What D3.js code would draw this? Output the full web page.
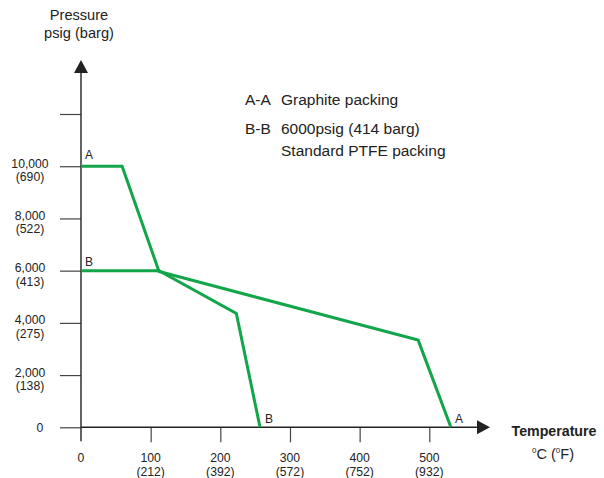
<!DOCTYPE html>
<html><head><meta charset="utf-8">
<script src="https://cdn.jsdelivr.net/npm/d3@7"></script>
<style>body{margin:0;background:#fff}svg{display:block;font-family:"Liberation Sans",Arial,sans-serif}</style>
</head><body>
<svg id="c" width="604" height="478"></svg>
<script>
const yTicks = [0, 2000, 4000, 6000, 8000, 10000, 12000];
const yPsi = ["0", "2,000", "4,000", "6,000", "8,000", "10,000", ""];
const yBarg = ["", "(138)", "(275)", "(413)", "(522)", "(690)", ""];
const xTicks = [0, 100, 200, 300, 400, 500];
const xC = ["0", "100", "200", "300", "400", "500"];
const xF = ["", "(212)", "(392)", "(572)", "(752)", "(932)"];
const seriesA = [[0, 10000], [59, 10000], [112, 5970], [484, 3340], [531, 0]];
const seriesB = [[0, 6000], [112, 6000], [223, 4360], [257, 0]];
const legendLines = [["A-A", "Graphite packing"], ["B-B", "6000psig (414 barg)"], ["", "Standard PTFE packing"]];

const svg = d3.select("#c");
const x = d3.scaleLinear().domain([0, 500]).range([81, 429.3]);
const y = d3.scaleLinear().domain([0, 12000]).range([427.3, 114]);
const green = "#12a54a";
const axisCol = "#222";

// y ticks
const ya = svg.append("g").attr("transform", `translate(${x(0)},0)`)
  .call(d3.axisLeft(y).tickValues(yTicks).tickSize(21).tickFormat(""));
ya.select(".domain").remove();
ya.selectAll(".tick line").attr("stroke", "#444").attr("stroke-width", 1.2);

// x ticks
const xa = svg.append("g").attr("transform", `translate(0,${y(0)})`)
  .call(d3.axisBottom(x).tickValues(xTicks.slice(1)).tickSize(15).tickFormat(""));
xa.select(".domain").remove();
xa.selectAll(".tick line").attr("stroke", "#444").attr("stroke-width", 1.2);

// axis lines
svg.append("line").attr("x1", x(0)).attr("x2", x(0)).attr("y1", y(0) + 14).attr("y2", 70)
  .attr("stroke", axisCol).attr("stroke-width", 1.4);
svg.append("line").attr("x1", x(0)).attr("x2", 480).attr("y1", y(0)).attr("y2", y(0))
  .attr("stroke", axisCol).attr("stroke-width", 1.4);
svg.append("path").attr("d", `M${x(0)},60 L${x(0) - 7},73 L${x(0) + 7},73 Z`).attr("fill", axisCol);
svg.append("path").attr("d", `M490,${y(0)} L477,${y(0) - 7} L477,${y(0) + 7} Z`).attr("fill", axisCol);

// y labels
yTicks.forEach((v, i) => {
  if (!yPsi[i]) return;
  if (!yBarg[i]) {
    svg.append("text").attr("x", 40).attr("y", y(v) + 4.5).attr("text-anchor", "middle")
      .attr("font-size", 12.2).attr("fill", "#222").text(yPsi[i]);
  } else {
    svg.append("text").attr("x", 30).attr("y", y(v) + 1.5).attr("text-anchor", "middle")
      .attr("font-size", 12.2).attr("fill", "#222").text(yPsi[i]);
    svg.append("text").attr("x", 30).attr("y", y(v) + 15).attr("text-anchor", "middle")
      .attr("font-size", 12.2).attr("fill", "#222").text(yBarg[i]);
  }
});

// x labels
xTicks.forEach((v, i) => {
  svg.append("text").attr("x", x(v)).attr("y", 462).attr("text-anchor", "middle")
    .attr("font-size", 12.2).attr("fill", "#222").text(xC[i]);
  if (xF[i]) svg.append("text").attr("x", x(v)).attr("y", 476).attr("text-anchor", "middle")
    .attr("font-size", 12.2).attr("fill", "#222").text(xF[i]);
});

// titles
svg.append("text").attr("x", 79).attr("y", 20).attr("text-anchor", "middle").attr("font-size", 14.6).attr("fill", "#222").text("Pressure");
svg.append("text").attr("x", 79).attr("y", 38).attr("text-anchor", "middle").attr("font-size", 14.6).attr("fill", "#222").text("psig (barg)");
svg.append("text").attr("x", 554).attr("y", 436).attr("text-anchor", "middle").attr("font-size", 14.2).attr("font-weight", "bold").attr("fill", "#222").text("Temperature");
const tu = svg.append("text").attr("x", 553).attr("y", 459).attr("text-anchor", "middle").attr("font-size", 14.6).attr("fill", "#222");
tu.append("tspan").attr("font-size", 8).attr("dy", -6).text("0");
tu.append("tspan").attr("dy", 6).text("C (");
tu.append("tspan").attr("font-size", 8).attr("dy", -6).text("0");
tu.append("tspan").attr("dy", 6).text("F)");

// lines
const line = d3.line().x(d => x(d[0])).y(d => y(d[1]));
[seriesA, seriesB].forEach(s => {
  svg.append("path").attr("d", line(s)).attr("fill", "none").attr("stroke", green)
    .attr("stroke-width", 3).attr("stroke-linejoin", "miter");
});

// point labels
svg.append("text").attr("x", x(seriesA[0][0]) + 4).attr("y", y(seriesA[0][1]) - 7).attr("font-size", 12).attr("fill", "#222").text("A");
svg.append("text").attr("x", x(seriesB[0][0]) + 4).attr("y", y(seriesB[0][1]) - 5).attr("font-size", 12).attr("fill", "#222").text("B");
svg.append("text").attr("x", x(seriesB[seriesB.length - 1][0]) + 5).attr("y", y(0) - 4).attr("font-size", 12).attr("fill", "#222").text("B");
svg.append("text").attr("x", x(seriesA[seriesA.length - 1][0]) + 4).attr("y", y(0) - 4).attr("font-size", 12).attr("fill", "#222").text("A");

// legend
legendLines.forEach((l, i) => {
  const yy = [105, 134, 156][i];
  if (l[0]) svg.append("text").attr("x", 245).attr("y", yy).attr("font-size", 15.5).attr("fill", "#222").text(l[0]);
  svg.append("text").attr("x", 281).attr("y", yy).attr("font-size", 15.5).attr("fill", "#222").text(l[1]);
});
</script>
</body></html>
